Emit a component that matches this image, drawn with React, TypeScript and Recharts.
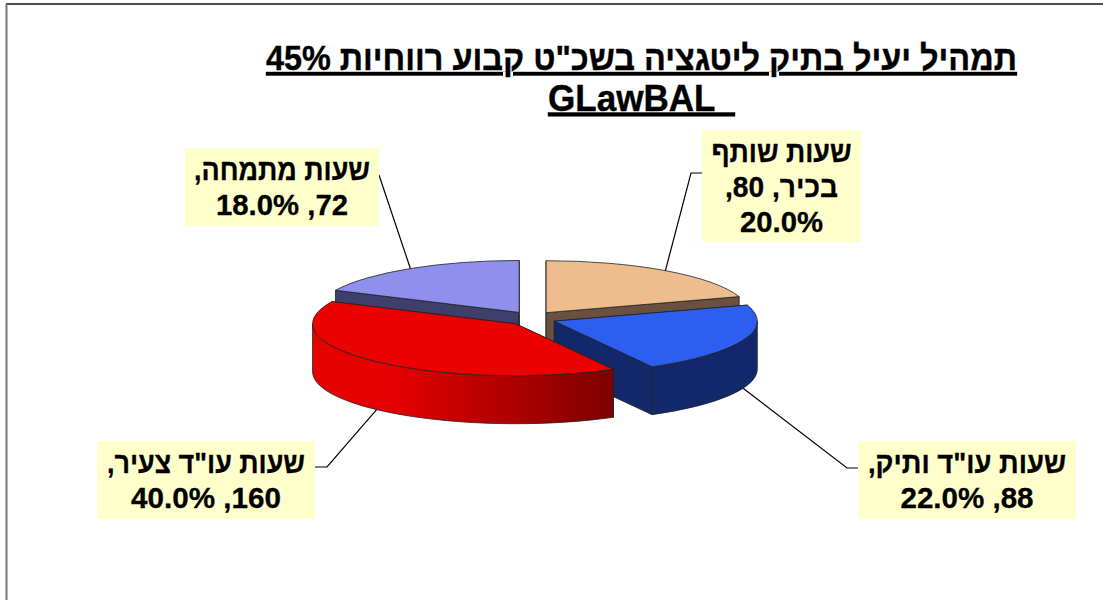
import { PieChart, Pie } from "recharts";

const categories = ["שעות מתמחה", "שעות שותף בכיר", "שעות עו\"ד ותיק", "שעות עו\"ד צעיר"];
const hours = [72, 80, 88, 160];
const percents = ["18.0%", "20.0%", "22.0%", "40.0%"];
const topColors = ["#8F8FEE", "#EDBD8E", "#2C5FF0", "#EC0000"];
const wallColors = ["#3F3F6C", "#6B5040", "#12286A", "url(#redWall)"];

// each label is split by hand, the way the text wraps inside its box
const labelLines = [
  ["שעות מתמחה,", "72, 18.0%"],
  ["שעות שותף", "בכיר, 80,", "20.0%"],
  ["שעות עו\"ד ותיק,", "88, 22.0%"],
  ["שעות עו\"ד צעיר,", "160, 40.0%"],
];
const labelWidths = [
  [176, 132],
  [140, 113, 83],
  [198, 133],
  [198, 150],
];
const titleLines = ["תמהיל יעיל בתיק ליטגציה בשכ\"ט קבוע רווחיות 45%", "GLawBAL\u00a0\u00a0"];

const chartData = categories.map((name, i) => ({ name, value: hours[i], percent: percents[i], index: i }));

const WIDTH = 1103;
const HEIGHT = 600;
const RX = 203;
const TILT = 0.256;
const DEPTH = 48;
const EXPLODE = 24;
const FONT = "'Liberation Sans', Arial, sans-serif";
const RAD = Math.PI / 180;

// label boxes: x, y, width, height, then the elbow of the leader line
const boxes = [
  { x: 185, y: 148, w: 194, h: 78, elbowX: 379, elbowY: 175, fromX: 379 },
  { x: 702, y: 130, w: 159, h: 112, elbowX: 691, elbowY: 173, fromX: 702 },
  { x: 858, y: 441, w: 218, h: 78, elbowX: 847, elbowY: 468, fromX: 858 },
  { x: 97, y: 441, w: 218, h: 78, elbowX: 327, elbowY: 467, fromX: 315 },
];

// shift a slice away from the centre along its middle angle
const sliceOrigin = (cx: number, cy: number, midAngle: number) => ({
  ox: cx + EXPLODE * Math.cos(midAngle * RAD),
  oy: cy - EXPLODE * 0.3 * Math.sin(midAngle * RAD),
});

const project = (ox: number, oy: number, angle: number) => ({
  x: ox + RX * Math.cos(angle * RAD),
  y: oy - RX * TILT * Math.sin(angle * RAD),
});

// flattened 3D slice: cut faces, front wall, then the top
function Slice3D(props: any) {
  const { cx, cy, startAngle, endAngle, midAngle, fill, index } = props;
  const { ox, oy } = sliceOrigin(cx, cy, midAngle);
  const a = project(ox, oy, startAngle);
  const b = project(ox, oy, endAngle);
  const hi = Math.max(startAngle, endAngle);
  const lo = Math.min(startAngle, endAngle);
  const large = hi - lo > 180 ? 1 : 0;
  const ry = RX * TILT;
  const wall = wallColors[index];
  const stroke = "#222";

  // the part of the rim that faces the viewer: sin(angle) < 0
  const norm = (v: number) => ((v % 360) + 360) % 360;
  let frontFrom: number | null = null;
  let frontTo: number | null = null;
  for (let t = lo; t <= hi; t += 0.1) {
    if (norm(t) > 180) {
      if (frontFrom === null) frontFrom = t;
      frontTo = t;
    }
  }

  const face = (p: { x: number; y: number }) =>
    `M${ox},${oy} L${p.x},${p.y} L${p.x},${p.y + DEPTH} L${ox},${oy + DEPTH} Z`;

  let rim = null;
  if (frontFrom !== null && frontTo !== null && frontTo > frontFrom) {
    const f = project(ox, oy, frontFrom);
    const t = project(ox, oy, frontTo);
    rim = (
      <path
        d={`M${f.x},${f.y} A${RX},${ry} 0 0 0 ${t.x},${t.y} L${t.x},${t.y + DEPTH} A${RX},${ry} 0 0 1 ${f.x},${f.y + DEPTH} Z`}
        fill={wall}
        stroke={stroke}
        strokeWidth={0.8}
      />
    );
  }

  const solidWall = wall.startsWith("url") ? "#7F0000" : wall;
  return (
    <g>
      <path d={face(a)} fill={solidWall} stroke={stroke} strokeWidth={0.8} />
      <path d={face(b)} fill={solidWall} stroke={stroke} strokeWidth={0.8} />
      {rim}
      <path
        d={`M${ox},${oy} L${a.x},${a.y} A${RX},${ry} 0 ${large} 1 ${b.x},${b.y} Z`}
        fill={fill}
        stroke={stroke}
        strokeWidth={0.8}
        strokeLinejoin="round"
      />
    </g>
  );
}

// yellow box with the wrapped text, plus its leader line back to the slice
function SliceLabel(props: any) {
  const { cx, cy, midAngle, index } = props;
  const box = boxes[index];
  const { ox, oy } = sliceOrigin(cx, cy, midAngle);
  const anchor = project(ox, oy, midAngle);
  const onFront = Math.sin(midAngle * RAD) < 0;
  const endY = anchor.y + (onFront ? DEPTH : 0);
  const lines = labelLines[index];
  const lineGap = 35;
  const firstBaseline = box.y + box.h / 2 - ((lines.length - 1) * lineGap) / 2 + 10.5;

  return (
    <g>
      <polyline
        points={`${box.fromX},${box.elbowY} ${box.elbowX},${box.elbowY} ${anchor.x},${endY}`}
        fill="none"
        stroke="#000"
        strokeWidth={1.2}
      />
      <rect x={box.x} y={box.y} width={box.w} height={box.h} fill="#FFFFCC" />
      {lines.map((line, i) => (
        <text
          key={i}
          x={box.x + box.w / 2}
          y={firstBaseline + i * lineGap}
          textAnchor="middle"
          direction="rtl"
          fontFamily={FONT}
          fontWeight="bold"
          fontSize={29}
          textLength={labelWidths[index][i]}
          lengthAdjust="spacingAndGlyphs"
          fill="#000"
          stroke="#000"
          strokeWidth={0.3}
        >
          {line}
        </text>
      ))}
    </g>
  );
}

export default function App() {
  const data = chartData.map((d, i) => ({ ...d, fill: topColors[i] }));
  return (
    <div style={{ position: "absolute", left: 0, top: 0, width: WIDTH, height: HEIGHT, background: "#fff" }}>
      <PieChart width={WIDTH} height={HEIGHT} margin={{ top: 0, right: 0, bottom: 0, left: 0 }}>
        <defs>
          <linearGradient id="redWall" x1="0" y1="0" x2="1" y2="0">
            <stop offset="0" stopColor="#E60000" />
            <stop offset="0.25" stopColor="#E60000" />
            <stop offset="1" stopColor="#7F0000" />
          </linearGradient>
        </defs>
        <line x1={6} y1={4} x2={WIDTH} y2={4} stroke="#111" strokeWidth={1.5} />
        <line x1={6.5} y1={4} x2={6.5} y2={HEIGHT} stroke="#777" strokeWidth={2} />
        <text
          x={641.5}
          y={70}
          textAnchor="middle"
          direction="rtl"
          fontFamily={FONT}
          fontWeight="bold"
          fontSize={35}
          textLength={751}
          lengthAdjust="spacingAndGlyphs"
          textDecoration="underline"
          stroke="#000"
          strokeWidth={0.4}
        >
          {titleLines[0]}
        </text>
        <text
          x={641.5}
          y={110.5}
          textAnchor="middle"
          fontFamily={FONT}
          fontWeight="bold"
          fontSize={37}
          textLength={187}
          lengthAdjust="spacingAndGlyphs"
          textDecoration="underline"
          stroke="#000"
          strokeWidth={0.4}
        >
          {titleLines[1]}
        </text>
        <Pie
          data={data}
          dataKey="value"
          nameKey="name"
          cx={532}
          cy={318.5}
          outerRadius={RX}
          startAngle={154.8}
          endAngle={-205.2}
          paddingAngle={0}
          stroke="none"
          shape={Slice3D}
          label={SliceLabel}
          labelLine={false}
          isAnimationActive={false}
        />
      </PieChart>
    </div>
  );
}
